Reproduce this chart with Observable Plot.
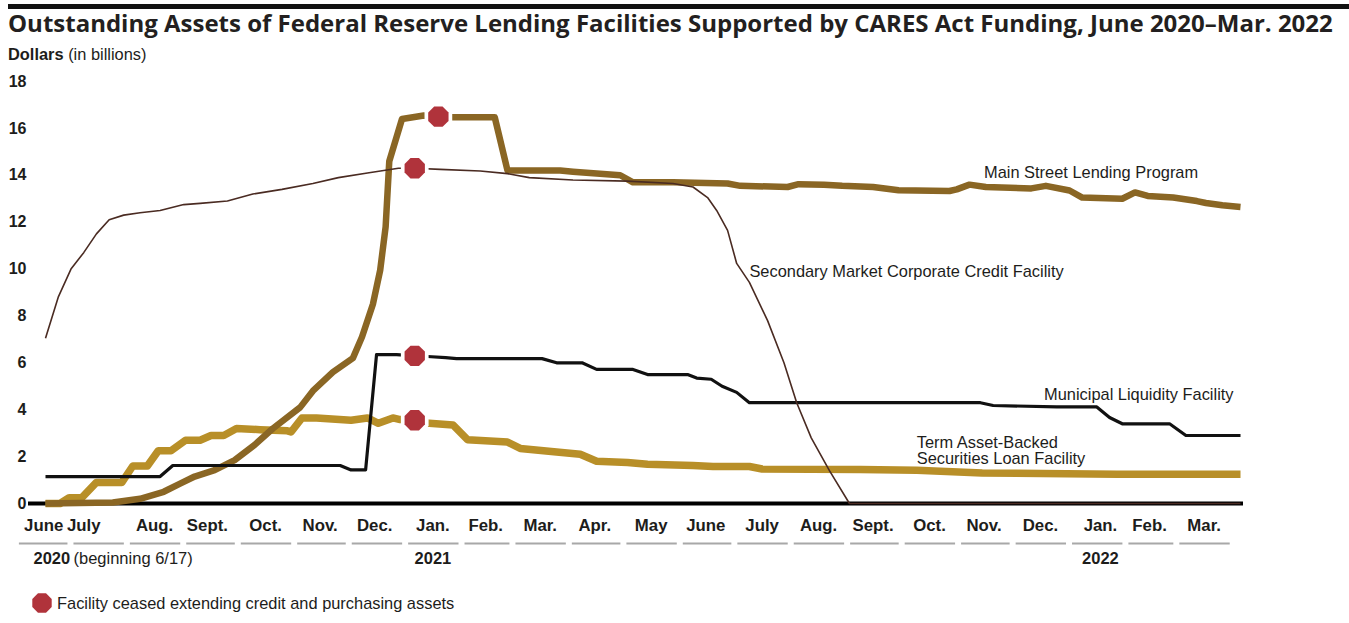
<!DOCTYPE html>
<html>
<head>
<meta charset="utf-8">
<script src="https://cdn.jsdelivr.net/npm/d3@7"></script>
<script src="https://cdn.jsdelivr.net/npm/@observablehq/plot@0.6"></script>
<style>
  html, body { margin: 0; padding: 0; background: #fff; font-family: "Liberation Sans", Arial, sans-serif; color: #1d1d1b; }
  #wrap { position: relative; width: 1349px; height: 623px; overflow: hidden; }
  #title { position: absolute; left: 8px; top: 4px; width: 1341px; border-top: 5px solid #111; padding-top: 1.5px; font-family: "Open Sans", sans-serif; font-weight: 700; font-size: 24px; line-height: 1; white-space: nowrap; color: #231f20; }
  #sub { position: absolute; left: 8px; top: 45.5px; font-size: 16.4px; line-height: 1; white-space: nowrap; }
  #chart { position: absolute; left: 0; top: 66px; }
  #legend { position: absolute; left: 31px; top: 592px; font-size: 16.4px; line-height: 22px; display: flex; align-items: center; white-space: nowrap; }
  #legend svg { margin-right: 4px; }
</style>
</head>
<body>
<div id="wrap">
  <div id="title">Outstanding Assets of Federal Reserve Lending Facilities Supported by CARES Act Funding, June 2020–Mar. 2022</div>
  <div id="sub"><b>Dollars</b> (in billions)</div>
  <div id="chart"></div>
  <div id="legend">
    <svg width="22" height="22" viewBox="-11 -11 22 22"><polygon id="legendOct" fill="#b0333b"></polygon></svg>
    <span>Facility ceased extending credit and purchasing assets</span>
  </div>
</div>
<script>
// ---------------- data (dates, values in billions of dollars) ----------------
const xStart = "2020-06-17";
const xEnd = "2022-04-05";

const mainStreet = [
  ["2020-06-17",0],["2020-07-24",0.04],["2020-08-08",0.2],["2020-08-21",0.5],["2020-08-30",0.85],
  ["2020-09-07",1.15],["2020-09-18",1.42],["2020-09-29",1.85],["2020-10-10",2.5],["2020-10-20",3.2],
  ["2020-11-04",4.1],["2020-11-11",4.8],["2020-11-22",5.6],["2020-12-03",6.2],["2020-12-08",7.1],
  ["2020-12-14",8.5],["2020-12-18",9.95],["2020-12-21",11.8],["2020-12-23",14.6],["2020-12-30",16.4],
  ["2021-01-11",16.55],["2021-01-19",16.5],["2021-01-27",16.47],["2021-02-19",16.47],["2021-02-26",14.2],
  ["2021-03-27",14.2],["2021-04-03",14.15],["2021-04-29",14.0],["2021-05-06",13.7],["2021-05-28",13.7],
  ["2021-06-27",13.65],["2021-07-04",13.55],["2021-07-30",13.5],["2021-08-05",13.62],["2021-08-19",13.6],
  ["2021-08-29",13.55],["2021-09-15",13.5],["2021-09-29",13.36],["2021-10-27",13.33],["2021-10-31",13.4],
  ["2021-11-07",13.6],["2021-11-16",13.5],["2021-12-11",13.44],["2021-12-19",13.55],["2022-01-01",13.35],
  ["2022-01-08",13.05],["2022-01-30",13.0],["2022-02-06",13.27],["2022-02-13",13.12],["2022-02-27",13.05],
  ["2022-03-12",12.9],["2022-03-17",12.82],["2022-03-26",12.72],["2022-04-05",12.65]
];

const smccf = [
  ["2020-06-17",7.05],["2020-06-24",8.8],["2020-07-01",10.0],["2020-07-08",10.7],["2020-07-15",11.5],
  ["2020-07-22",12.1],["2020-07-30",12.3],["2020-08-08",12.4],["2020-08-19",12.5],["2020-09-01",12.75],
  ["2020-09-10",12.8],["2020-09-25",12.9],["2020-10-09",13.2],["2020-10-25",13.4],["2020-11-11",13.65],
  ["2020-11-25",13.9],["2020-12-11",14.1],["2020-12-28",14.3],["2021-01-06",14.3],["2021-01-20",14.25],
  ["2021-02-11",14.18],["2021-02-26",14.07],["2021-03-10",13.9],["2021-04-03",13.8],["2021-05-03",13.75],
  ["2021-05-28",13.65],["2021-06-08",13.5],["2021-06-16",13.05],["2021-06-21",12.5],["2021-06-27",11.65],
  ["2021-07-02",10.24],["2021-07-09",9.43],["2021-07-19",7.8],["2021-07-28",6.0],["2021-08-04",4.3],
  ["2021-08-12",2.8],["2021-08-22",1.4],["2021-09-02",0],["2022-04-05",0]
];

const mlf = [
  ["2020-06-17",1.15],["2020-08-19",1.15],["2020-08-26",1.62],["2020-11-26",1.62],["2020-12-02",1.43],
  ["2020-12-10",1.43],["2020-12-16",6.35],["2020-12-27",6.35],["2021-01-06",6.3],["2021-01-13",6.27],
  ["2021-01-23",6.22],["2021-01-29",6.18],["2021-03-17",6.18],["2021-03-25",6.0],["2021-04-08",6.0],
  ["2021-04-16",5.72],["2021-05-06",5.72],["2021-05-14",5.5],["2021-06-05",5.5],["2021-06-10",5.35],
  ["2021-06-18",5.3],["2021-06-24",5.0],["2021-07-02",4.74],["2021-07-09",4.3],["2021-11-13",4.3],
  ["2021-11-20",4.18],["2021-12-25",4.12],["2022-01-16",4.12],["2022-01-23",3.67],["2022-01-30",3.4],
  ["2022-02-25",3.4],["2022-03-06",2.9],["2022-04-05",2.9]
];

const talf = [
  ["2020-06-17",0],["2020-06-25",0],["2020-06-30",0.25],["2020-07-07",0.25],["2020-07-15",0.9],
  ["2020-07-29",0.9],["2020-08-04",1.6],["2020-08-12",1.6],["2020-08-18",2.25],["2020-08-25",2.25],
  ["2020-09-02",2.7],["2020-09-10",2.7],["2020-09-16",2.9],["2020-09-23",2.9],["2020-09-30",3.2],
  ["2020-10-13",3.15],["2020-10-28",3.1],["2020-10-30",3.05],["2020-11-05",3.65],["2020-11-13",3.65],
  ["2020-12-02",3.55],["2020-12-11",3.65],["2020-12-17",3.42],["2020-12-25",3.65],["2020-12-29",3.58],
  ["2021-01-06",3.55],["2021-01-14",3.42],["2021-01-27",3.35],["2021-02-04",2.72],["2021-02-26",2.62],
  ["2021-03-05",2.35],["2021-03-25",2.2],["2021-04-07",2.1],["2021-04-16",1.8],["2021-05-03",1.75],
  ["2021-05-14",1.67],["2021-06-08",1.62],["2021-06-19",1.58],["2021-07-09",1.58],["2021-07-16",1.47],
  ["2021-09-08",1.45],["2021-10-09",1.42],["2021-11-14",1.3],["2022-01-27",1.25],["2022-04-05",1.25]
];

// dates when facilities ceased extending credit (marker positions on each line)
const ceasedDates  = ["2021-01-19", "2021-01-06", "2021-01-06", "2021-01-06"];
const ceasedValues = [16.5, 14.3, 6.3, 3.55];

// series labels placed beside the lines
const seriesNames  = ["Main Street Lending Program", "Secondary Market Corporate Credit Facility", "Municipal Liquidity Facility", "Term Asset-Backed\nSecurities Loan Facility"];
const seriesLabelDates  = ["2021-11-15", "2021-07-09", "2021-12-18", "2021-10-09"];
const seriesLabelValues = [14.12, 9.9, 4.65, 2.24];

// axis labels
const yTicks = [0, 2, 4, 6, 8, 10, 12, 14, 16, 18];
const monthLabels = ["June","July","Aug.","Sept.","Oct.","Nov.","Dec.","Jan.","Feb.","Mar.","Apr.","May","June","July","Aug.","Sept.","Oct.","Nov.","Dec.","Jan.","Feb.","Mar."];
const monthLabelDates = ["2020-06-16","2020-07-08","2020-08-16","2020-09-14","2020-10-16","2020-11-15","2020-12-15",
  "2021-01-16","2021-02-14","2021-03-16","2021-04-15","2021-05-16","2021-06-15","2021-07-16","2021-08-16","2021-09-15",
  "2021-10-16","2021-11-15","2021-12-16","2022-01-18","2022-02-14","2022-03-16"];
const yearLabels = ["2021", "2022"];
const yearLabelDates = ["2021-01-16", "2022-01-18"];
const startYear = "2020";
const startNote = "(beginning 6/17)";

// ---------------- styles ----------------
const COLORS = { main: "#8a6624", smccf: "#4a2b22", mlf: "#111111", talf: "#b88f28", ceased: "#b0333b" };

// ---------------- build ----------------
const parse = d3.utcParse("%Y-%m-%d");
const rows = (arr) => arr.map(([d, v]) => ({ date: parse(d), value: v }));
const ceased = ceasedDates.map((d, i) => ({ date: parse(d), value: ceasedValues[i] }));
const seriesLabels = seriesNames.map((name, i) => ({ name, date: parse(seriesLabelDates[i]), value: seriesLabelValues[i] }));
const monthTicks = monthLabels.map((label, i) => ({ label, date: parse(monthLabelDates[i]) }));
const yearTicks = yearLabels.map((label, i) => ({ label, date: parse(yearLabelDates[i]) }));

const octagon = {
  draw(ctx, size) {
    const r = Math.sqrt(size / Math.PI);
    for (let k = 0; k < 8; k++) {
      const a = Math.PI / 8 + k * Math.PI / 4;
      const px = r * Math.cos(a), py = r * Math.sin(a);
      if (k === 0) ctx.moveTo(px, py); else ctx.lineTo(px, py);
    }
    ctx.closePath();
  }
};
// legend octagon
document.getElementById("legendOct").setAttribute("points",
  d3.range(8).map(k => { const a = Math.PI / 8 + k * Math.PI / 4; return [10.5 * Math.cos(a), 10.5 * Math.sin(a)].join(","); }).join(" "));

const zero = () => 0;
const lineOpts = { x: "date", y: "value", strokeLinejoin: "round", strokeLinecap: "butt" };

const chart = Plot.plot({
  width: 1349,
  height: 507,
  marginLeft: 45,
  marginRight: 109,
  marginTop: 15,
  marginBottom: 70,
  style: { fontFamily: "'Liberation Sans', Arial, sans-serif", color: "#1d1d1b", background: "transparent" },
  x: { type: "utc", domain: [parse(xStart), parse(xEnd)], axis: null },
  y: { domain: [0, 18], axis: null },
  marks: [
    Plot.axisY(yTicks, { tickSize: 0, tickPadding: 19, fontSize: 16, fontWeight: "bold", label: null }),
    Plot.ruleY([0], { stroke: "#000", strokeWidth: 4, insetLeft: -17, insetRight: -3 }),
    Plot.line(rows(talf), { ...lineOpts, stroke: COLORS.talf, strokeWidth: 7.5 }),
    Plot.line(rows(mainStreet), { ...lineOpts, stroke: COLORS.main, strokeWidth: 6.5 }),
    Plot.line(rows(mlf), { ...lineOpts, stroke: COLORS.mlf, strokeWidth: 3.2 }),
    Plot.line(rows(smccf), { ...lineOpts, stroke: COLORS.smccf, strokeWidth: 1.6 }),
    Plot.dot(ceased, { x: "date", y: "value", r: 15, symbol: octagon, fill: "#fff", stroke: "none" }),
    Plot.dot(ceased, { x: "date", y: "value", r: 11, symbol: octagon, fill: COLORS.ceased, stroke: "none" }),
    Plot.text(seriesLabels, { x: "date", y: "value", text: "name", textAnchor: "start", fontSize: 16.4, lineHeight: 0.98, fill: "#1d1d1b" }),
    // x axis: month labels, underline dashes, year labels
    Plot.text(monthTicks, { x: "date", y: zero, text: "label", dy: 22, fontSize: 16.8, fontWeight: "bold" }),
    Plot.ruleY(monthTicks, {
      y: zero,
      x1: d => d3.utcMonth.floor(d.date),
      x2: d => d3.utcMonth.offset(d3.utcMonth.floor(d.date), 1),
      dy: 40, insetLeft: 3, insetRight: 3, stroke: "#a8a8a8", strokeWidth: 2
    }),
    Plot.text(yearTicks, { x: "date", y: zero, text: "label", dy: 55, fontSize: 16.5, fontWeight: "bold" }),
    Plot.text([startYear], { x: () => parse(xStart), y: zero, text: d => d, textAnchor: "start", dx: -12, dy: 55, fontSize: 16.5, fontWeight: "bold" }),
    Plot.text([startNote], { x: () => parse(xStart), y: zero, text: d => d, textAnchor: "start", dx: 28, dy: 55, fontSize: 16.5 })
  ]
});
document.getElementById("chart").appendChild(chart);
</script>
</body>
</html>
